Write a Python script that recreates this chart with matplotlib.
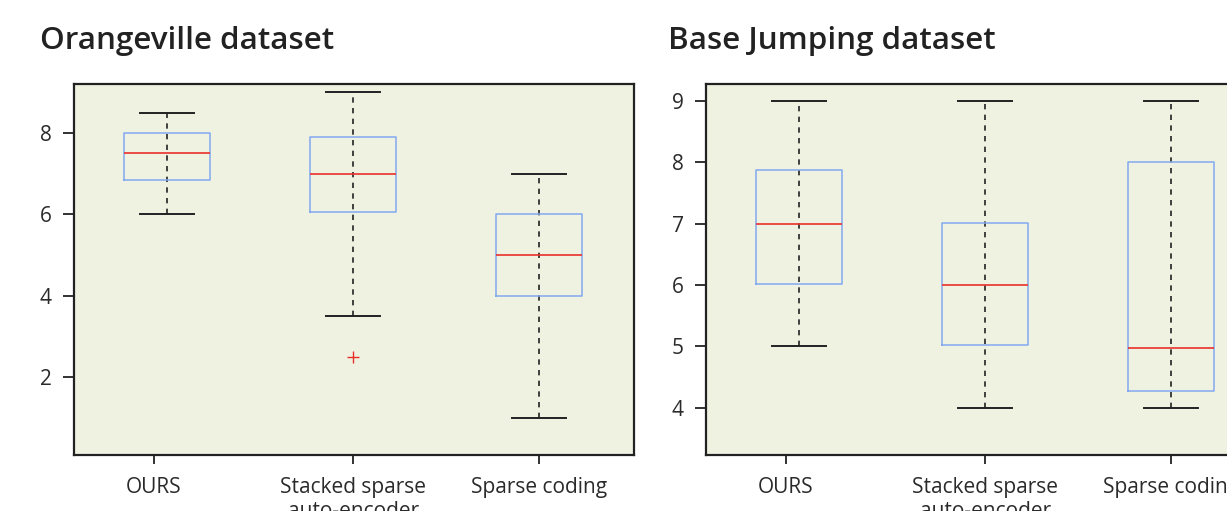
import matplotlib
matplotlib.use("Agg")
import matplotlib.pyplot as plt

plt.rcParams['font.family'] = ['Open Sans', 'DejaVu Sans']

categories = ["OURS", "Stacked sparse\nauto-encoder", "Sparse coding"]

# Orangeville dataset
ov_whislo = [6.0, 3.5, 1.0]
ov_q1 = [6.85, 6.05, 4.0]
ov_med = [7.5, 7.0, 5.0]
ov_q3 = [8.0, 7.9, 6.0]
ov_whishi = [8.5, 9.0, 7.0]
ov_fliers = [[], [2.5], []]

# Base Jumping dataset
bj_whislo = [5.0, 4.0, 4.0]
bj_q1 = [6.02, 5.02, 4.27]
bj_med = [7.0, 6.0, 4.98]
bj_q3 = [7.87, 7.02, 8.0]
bj_whishi = [9.0, 9.0, 9.0]
bj_fliers = [[], [], []]

titles = ["Orangeville dataset", "Base Jumping dataset"]

W, H = 1227, 511
fig = plt.figure(figsize=(W / 100, H / 100), dpi=100)

bg = "#f0f2e1"
box_c = "#82a8f0"
med_c = "#e8302a"
dark = "#222222"
txt = "#2a2a2a"


def make_stats(lo, q1, med, q3, hi, fl):
    return [dict(whislo=a, q1=b, med=c, q3=d, whishi=e, fliers=f)
            for a, b, c, d, e, f in zip(lo, q1, med, q3, hi, fl)]


panels = [
    (74, make_stats(ov_whislo, ov_q1, ov_med, ov_q3, ov_whishi, ov_fliers),
     ov_whislo, ov_whishi, (0.09, 9.2), [2, 4, 6, 8]),
    (706, make_stats(bj_whislo, bj_q1, bj_med, bj_q3, bj_whishi, bj_fliers),
     bj_whislo, bj_whishi, (3.23, 9.28), [4, 5, 6, 7, 8, 9]),
]
title_x = [40, 668]
positions = [1, 2, 3]
tick_pos = [0.93, 2, 3]  # the first category tick sits slightly left of its box in the source

for i, (x0, stats, lo, hi, ylim, yt) in enumerate(panels):
    ax = fig.add_axes([x0 / W, 1 - 455 / H, 560 / W, (455 - 84) / H])
    ax.set_facecolor(bg)
    # dashed whisker line running through the whole box
    ax.vlines(positions, lo, hi, colors=dark, linewidth=1.2,
              linestyles=[(0, (3.2, 3.2))], zorder=1)
    ax.bxp(stats, positions=positions, widths=0.46, capwidths=0.29,
           showfliers=True, manage_ticks=False,
           boxprops=dict(color=box_c, linewidth=1.1),
           medianprops=dict(color=med_c, linewidth=1.2),
           whiskerprops=dict(linestyle='none'),
           capprops=dict(color=dark, linewidth=1.4),
           flierprops=dict(marker='+', markeredgecolor=med_c, markersize=9,
                           markeredgewidth=1.0, linestyle='none'))
    ax.set_xlim(0.5, 3.51)
    ax.set_ylim(*ylim)
    ax.set_yticks(yt)
    ax.set_xticks(tick_pos)
    ax.set_xticklabels(categories)
    for s in ax.spines.values():
        s.set_color(dark)
        s.set_linewidth(1.6)
    ax.tick_params(axis='y', direction='out', length=8, width=1.3, color=dark,
                   labelsize=15, labelcolor=txt, pad=8)
    ax.tick_params(axis='x', direction='out', length=6.5, width=1.3, color=dark,
                   labelsize=15, labelcolor=txt, pad=9)
    fig.text(title_x[i] / W, 1 - 49 / H, titles[i], fontsize=22.6, fontweight='semibold',
             color=dark, ha='left', va='baseline')

fig.savefig("out.png", dpi=100, facecolor='white')
